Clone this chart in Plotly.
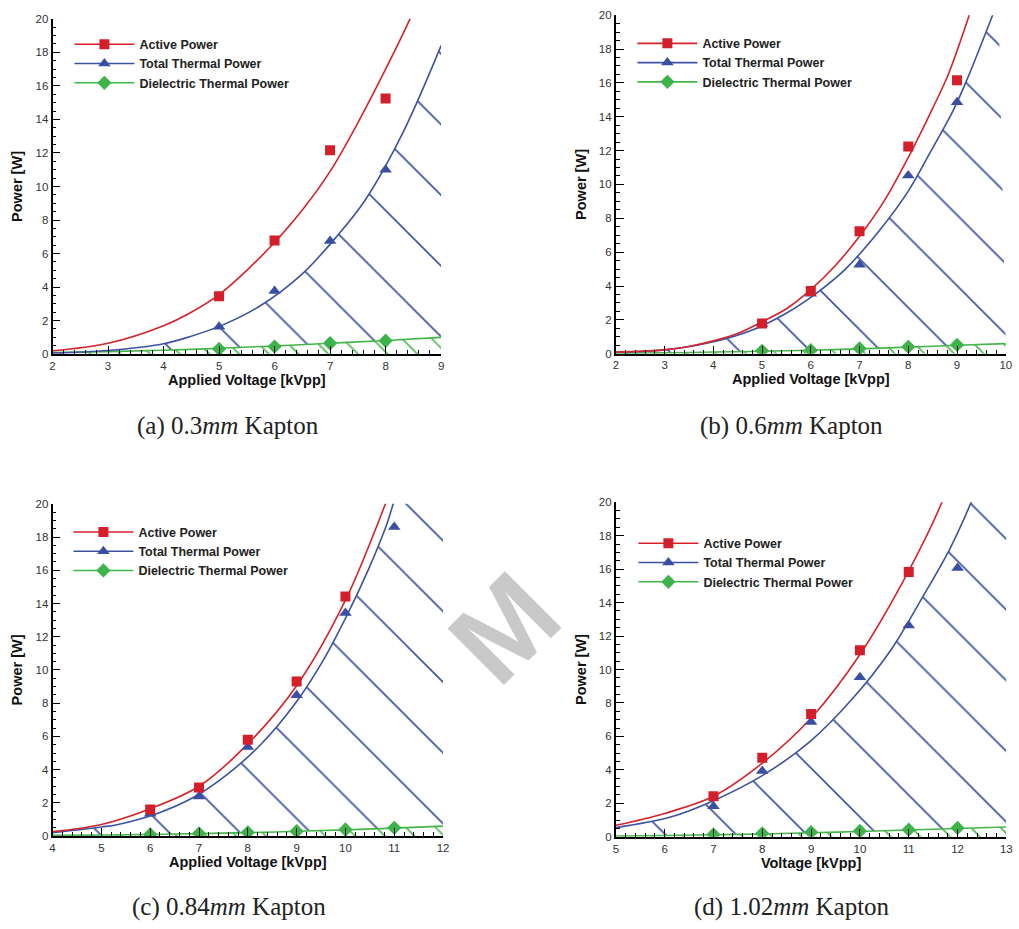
import plotly.graph_objects as go

# ---------------- data ----------------
# (a) 0.3 mm Kapton
a_volt = [5, 6, 7, 8]
a_active = [3.45, 6.78, 12.16, 15.25]
a_total = [1.63, 3.76, 6.75, 11.0]
a_diel = [0.31, 0.45, 0.65, 0.80]
a_fit_active_v = [2, 3, 4, 4.5, 5, 5.5, 6, 6.5, 7, 7.5, 8, 8.44, 8.6]
a_fit_active = [0.2, 0.65, 1.7, 2.5, 3.55, 5.0, 6.67, 8.6, 10.9, 13.8, 17.0, 20.0, 21.3]
a_fit_total_v = [2, 3, 4, 4.47, 5.08, 5.75, 6.49, 7.12, 7.63, 8.31, 9]
a_fit_total = [0.07, 0.22, 0.62, 1.04, 1.76, 2.9, 4.76, 7.02, 9.18, 13.2, 18.4]
a_fit_diel_v = [2, 3, 4, 5, 6, 7, 8, 9]
a_fit_diel = [0.1, 0.15, 0.23, 0.35, 0.49, 0.65, 0.81, 1.0]

# (b) 0.6 mm Kapton
b_volt = [5, 6, 7, 8, 9]
b_active = [1.79, 3.71, 7.23, 12.24, 16.15]
b_total = [1.77, 3.54, 5.25, 10.53, 14.85]
b_diel = [0.17, 0.21, 0.31, 0.41, 0.52]
b_fit_active_v = [2, 3, 3.5, 4, 4.5, 5, 5.5, 6, 6.5, 7, 7.5, 8, 8.5, 8.82, 9.25, 9.35]
b_fit_active = [0.1, 0.23, 0.43, 0.76, 1.2, 1.89, 2.66, 3.79, 5.2, 6.94, 9.0, 11.6, 14.5, 16.5, 20.0, 20.9]
b_fit_total_v = [2, 3, 4.03, 4.8, 5.46, 6.14, 6.71, 7.4, 7.99, 8.47, 8.92, 9.22, 9.73, 9.85]
b_fit_total = [0.1, 0.23, 0.72, 1.4, 2.33, 3.63, 5.0, 7.25, 9.56, 12.0, 14.36, 16.3, 20.0, 20.9]
b_fit_diel_v = [2, 3, 4, 5, 6, 7, 8, 9, 10]
b_fit_diel = [0.03, 0.06, 0.1, 0.15, 0.21, 0.29, 0.39, 0.5, 0.6]

# (c) 0.84 mm Kapton
c_active_v = [6, 7, 8, 9, 10]
c_active = [1.6, 2.93, 5.8, 9.31, 14.42]
c_volt = [6, 7, 8, 9, 10, 11]
c_total = [1.35, 2.38, 5.37, 8.48, 13.43, 18.6]
c_diel = [0.1, 0.16, 0.22, 0.3, 0.4, 0.5]
c_fit_active_v = [4, 5, 6, 7, 8, 9, 10, 10.82, 10.95]
c_fit_active = [0.27, 0.7, 1.65, 3.0, 5.55, 9.05, 14.2, 20.0, 21.0]
c_fit_total_v = [4, 5, 5.32, 6.13, 6.89, 7.58, 8.28, 8.97, 9.52, 10.02, 10.47, 10.83, 10.98, 11.1, 12]
c_fit_total = [0.2, 0.55, 0.69, 1.35, 2.34, 3.72, 5.56, 7.98, 10.46, 13.23, 16.04, 18.63, 20.0, 21.0, 30.0]
c_fit_diel_v = [4, 5, 6, 7, 8, 9, 10, 11, 12]
c_fit_diel = [0.05, 0.07, 0.1, 0.15, 0.21, 0.29, 0.38, 0.48, 0.6]

# (d) 1.02 mm Kapton
d_active_v = [7, 8, 9, 10, 11]
d_active = [2.42, 4.72, 7.34, 11.15, 15.83]
d_volt = [7, 8, 9, 10, 11, 12]
d_total = [1.83, 3.93, 6.86, 9.54, 12.63, 16.07]
d_diel = [0.14, 0.2, 0.28, 0.35, 0.43, 0.53]
d_fit_active_v = [5, 6, 7, 8, 9, 10, 11, 11.68, 11.8]
d_fit_active = [0.69, 1.4, 2.42, 4.4, 7.1, 10.9, 15.9, 20.0, 21.0]
d_fit_total_v = [5, 6.12, 7.0, 7.99, 8.97, 9.86, 10.62, 11.29, 11.84, 12.28, 12.4, 13]
d_fit_total = [0.55, 1.18, 2.16, 3.64, 5.68, 8.3, 11.11, 14.36, 17.2, 20.0, 20.9, 26.0]
d_fit_diel_v = [5, 6, 7, 8, 9, 10, 11, 12, 13]
d_fit_diel = [0.05, 0.08, 0.12, 0.17, 0.24, 0.32, 0.41, 0.5, 0.59]

series_names = ["Active Power", "Total Thermal Power", "Dielectric Thermal Power"]
captions = ["(a) 0.3<i>mm</i> Kapton", "(b) 0.6<i>mm</i> Kapton",
            "(c) 0.84<i>mm</i> Kapton", "(d) 1.02<i>mm</i> Kapton"]
x_titles = ["Applied Voltage [kVpp]", "Applied Voltage [kVpp]",
            "Applied Voltage [kVpp]", "Voltage [kVpp]"]
x_ranges = [[2, 9], [2, 10], [4, 12], [5, 13]]

panels = [
    dict(av=a_volt, act=a_active, tv=a_volt, tot=a_total, dv=a_volt, die=a_diel,
         fav=a_fit_active_v, fa=a_fit_active, ftv=a_fit_total_v, ft=a_fit_total,
         fdv=a_fit_diel_v, fd=a_fit_diel),
    dict(av=b_volt, act=b_active, tv=b_volt, tot=b_total, dv=b_volt, die=b_diel,
         fav=b_fit_active_v, fa=b_fit_active, ftv=b_fit_total_v, ft=b_fit_total,
         fdv=b_fit_diel_v, fd=b_fit_diel),
    dict(av=c_active_v, act=c_active, tv=c_volt, tot=c_total, dv=c_volt, die=c_diel,
         fav=c_fit_active_v, fa=c_fit_active, ftv=c_fit_total_v, ft=c_fit_total,
         fdv=c_fit_diel_v, fd=c_fit_diel),
    dict(av=d_active_v, act=d_active, tv=d_volt, tot=d_total, dv=d_volt, die=d_diel,
         fav=d_fit_active_v, fa=d_fit_active, ftv=d_fit_total_v, ft=d_fit_total,
         fdv=d_fit_diel_v, fd=d_fit_diel),
]

# ---------------- styling ----------------
W, H = 1019, 929
RED, BLUE, GREEN = "#d5222b", "#3c52a3", "#45b549"
RED_M, BLUE_M, GREEN_M = "#d41f2a", "#3a4ea2", "#3cb44a"
SANS = "Liberation Sans, Arial, sans-serif"
SERIF = "Liberation Serif, Times New Roman, serif"

# subplot boxes in page pixels: (left, right, top, bottom)
boxes = [(50, 442, 13, 352.7), (618.3, 1011.7, 9.3, 352.3),
         (50, 444, 504.3, 841), (618.3, 1012.3, 502.7, 841.7)]
legend_pos = [(67, 24), (635, 23), (66, 518), (636, 529.5)]
caption_pos = [(227, 425), (796, 425), (228, 913), (796, 913)]


def fx(px):
    return min(max(px / W, 0), 1)


def fy(py):
    return min(max(1 - py / H, 0), 1)


fig = go.Figure()
layout = dict(width=W, height=H, margin=dict(l=0, r=0, t=0, b=0),
              paper_bgcolor="white", plot_bgcolor="rgba(0,0,0,0)",
              showlegend=True, annotations=[])

# faint watermark letter visible between the panels
layout["annotations"].append(dict(
    text="M", x=fx(506), y=fy(630), xref="paper", yref="paper", textangle=-45,
    xanchor="center", yanchor="middle", showarrow=False,
    font=dict(family=SANS, size=116, color="#c9c9c9", weight="bold")))

for i, p in enumerate(panels):
    n = "" if i == 0 else str(i + 1)
    xa, ya = "x" + n, "y" + n
    lg = "legend" + n
    fig.add_trace(go.Scatter(
        x=p["fdv"], y=p["fd"], xaxis=xa, yaxis=ya, mode="lines",
        line=dict(color=GREEN, width=1.6, shape="spline"),
        fill="tozeroy", fillcolor="rgba(0,0,0,0)",
        fillpattern=dict(shape="\\", size=21, solidity=0.075, fgcolor=GREEN,
                         fgopacity=1, bgcolor="rgba(0,0,0,0)", fillmode="replace"),
        showlegend=False, hoverinfo="skip"))
    fig.add_trace(go.Scatter(
        x=p["ftv"], y=p["ft"], xaxis=xa, yaxis=ya, mode="lines",
        line=dict(color=BLUE, width=1.6, shape="spline"),
        fill="tonexty", fillcolor="rgba(0,0,0,0)",
        fillpattern=dict(shape="\\", size=50, solidity=0.033, fgcolor=BLUE,
                         fgopacity=1, bgcolor="rgba(0,0,0,0)", fillmode="replace"),
        showlegend=False, hoverinfo="skip"))
    fig.add_trace(go.Scatter(
        x=p["fav"], y=p["fa"], xaxis=xa, yaxis=ya, mode="lines",
        line=dict(color=RED, width=1.6, shape="spline"),
        showlegend=False, hoverinfo="skip"))
    fig.add_trace(go.Scatter(x=p["dv"], y=p["die"], xaxis=xa, yaxis=ya, mode="markers",
                             marker=dict(symbol="diamond", size=11, color=GREEN_M),
                             showlegend=False))
    fig.add_trace(go.Scatter(x=p["tv"], y=p["tot"], xaxis=xa, yaxis=ya, mode="markers",
                             marker=dict(symbol="triangle-up", size=11, color=BLUE_M),
                             showlegend=False))
    fig.add_trace(go.Scatter(x=p["av"], y=p["act"], xaxis=xa, yaxis=ya, mode="markers",
                             marker=dict(symbol="square", size=10, color=RED_M),
                             showlegend=False))
    for name, col, mcol, sym, sz in zip(series_names, [RED, BLUE, GREEN],
                                         [RED_M, BLUE_M, GREEN_M],
                                         ["square", "triangle-up", "diamond"], [10, 11, 11]):
        fig.add_trace(go.Scatter(x=[None], y=[None], xaxis=xa, yaxis=ya, name=name,
                                 mode="lines+markers", legend=lg,
                                 line=dict(color=col, width=1.6),
                                 marker=dict(symbol=sym, size=sz, color=mcol)))

    l, r, t, b = boxes[i]
    common = dict(ticks="inside", ticklen=8, tickwidth=1.3, tickcolor="black",
                  showline=True, linecolor="black", linewidth=1.8, showgrid=False,
                  zeroline=False, tickfont=dict(family=SANS, size=11.5, color="#333"))
    layout["xaxis" + n] = dict(
        domain=[fx(l), fx(r)], anchor=ya, range=x_ranges[i], dtick=1, tick0=0,
        minor=dict(dtick=0.2, ticks="inside", ticklen=4, tickwidth=1, tickcolor="black",
                   showgrid=False),
        title=dict(text=x_titles[i], standoff=0,
                   font=dict(family=SANS, size=14.5, color="#111", weight="bold")),
        **common)
    layout["yaxis" + n] = dict(
        domain=[fy(b), fy(t)], anchor=xa, range=[0, 20], dtick=2, tick0=0,
        minor=dict(dtick=0.5, ticks="inside", ticklen=4, tickwidth=1, tickcolor="black",
                   showgrid=False),
        title=dict(text="Power [W]", standoff=9,
                   font=dict(family=SANS, size=14.5, color="#111", weight="bold")),
        **common)
    lx, ly = legend_pos[i]
    layout[lg] = dict(x=fx(lx), y=fy(ly), xanchor="left", yanchor="top",
                      bgcolor="rgba(0,0,0,0)", itemwidth=60, tracegroupgap=0,
                      traceorder="normal",
                      font=dict(family=SANS, size=12.5, color="#222", weight="bold"))
    cx, cy = caption_pos[i]
    layout["annotations"].append(dict(
        text=captions[i], x=fx(cx), y=fy(cy), xref="paper", yref="paper",
        xanchor="center", yanchor="middle", showarrow=False,
        font=dict(family=SERIF, size=25, color="#222")))

fig.update_layout(**layout)

# pin the figure to the top-left corner of the page (no body margin / scrollbars)
pin = ("var gd=document.getElementById('{plot_id}');"
       "document.body.style.margin='0px';document.body.style.overflow='hidden';"
       "gd.style.position='fixed';gd.style.left='0px';gd.style.top='0px';")
fig.write_html("out.html", post_script=pin, config={"displayModeBar": False})
